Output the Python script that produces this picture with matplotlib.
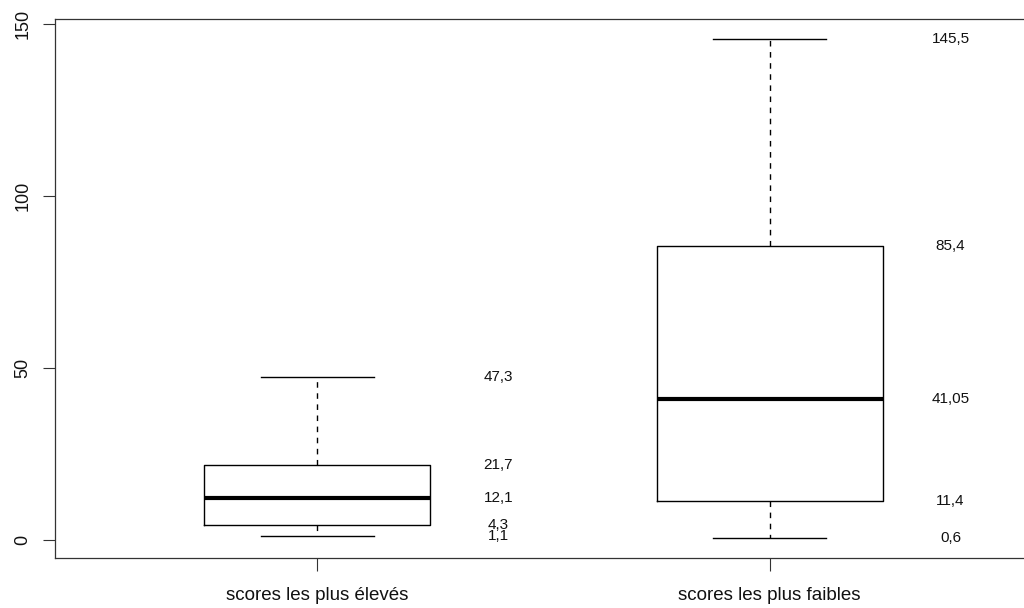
import matplotlib.pyplot as plt

groups = ['scores les plus élevés', 'scores les plus faibles']
mins = [1.1, 0.6]
q1s = [4.3, 11.4]
medians = [12.1, 41.05]
q3s = [21.7, 85.4]
maxs = [47.3, 145.5]
labels = [['47,3', '21,7', '12,1', '4,3', '1,1'],
          ['145,5', '85,4', '41,05', '11,4', '0,6']]

plt.rcParams['font.family'] = ['Liberation Sans', 'DejaVu Sans']

fig = plt.figure(figsize=(10.24, 6.08), dpi=100)
ax = fig.add_axes([0.0537, 0.0822, 0.954, 0.886])

stats = []
for i in range(len(groups)):
    stats.append({'whislo': mins[i], 'q1': q1s[i], 'med': medians[i],
                  'q3': q3s[i], 'whishi': maxs[i], 'fliers': []})

ax.bxp(stats, positions=[1, 2], widths=0.5, showfliers=False,
       boxprops=dict(color='black', linewidth=1),
       medianprops=dict(color='black', linewidth=3, solid_capstyle='butt'),
       whiskerprops=dict(color='black', linewidth=1, linestyle=(0, (4, 4))),
       capprops=dict(color='black', linewidth=1),
       capwidths=0.25)

for i in range(len(groups)):
    vals = [maxs[i], q3s[i], medians[i], q1s[i], mins[i]]
    for v, t in zip(vals, labels[i]):
        ax.text(i + 1 + 0.4, v, t, ha='center', va='center', fontsize=11,
                color='#111111')

lo, hi = min(mins), max(maxs)
pad = 0.04 * (hi - lo)
ax.set_ylim(lo - pad, hi + pad)
ax.set_xlim(0.42, 2.58)
ax.set_xticks([1, 2])
ax.set_xticklabels(groups, fontsize=13.5, color='#111111')
ax.set_yticks([0, 50, 100, 150])
ax.set_yticklabels(['0', '50', '100', '150'], rotation=90, va='center',
                   fontsize=13, color='#111111')
ax.tick_params(axis='x', length=9, width=0.8, color='#333333', pad=12)
ax.tick_params(axis='y', length=8.5, width=0.8, color='#333333', pad=8.5)
for s in ax.spines.values():
    s.set_color('#333333')
    s.set_linewidth(0.9)

fig.savefig('out.png', dpi=100)
